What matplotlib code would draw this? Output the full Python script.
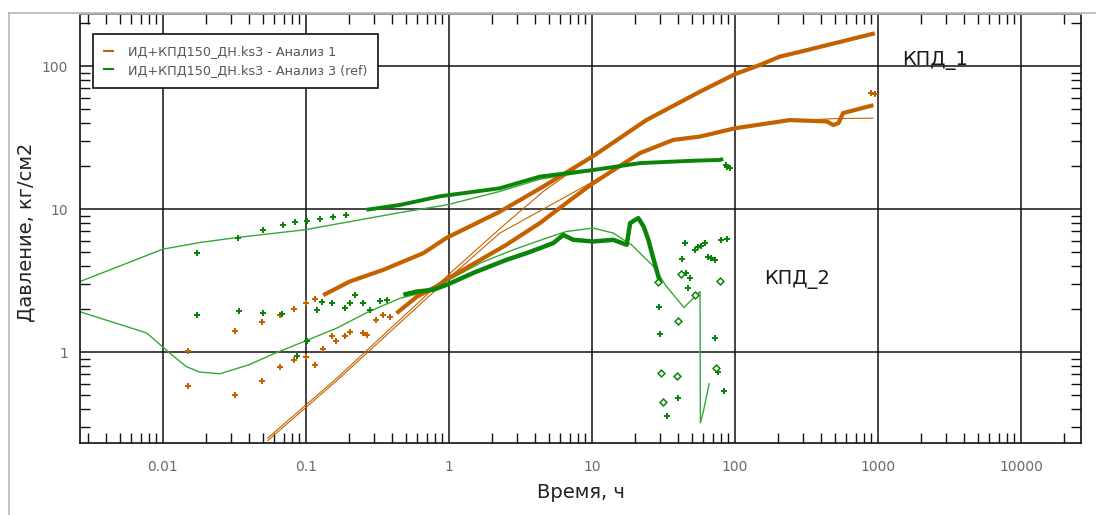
import matplotlib
matplotlib.use("Agg")
import matplotlib.pyplot as plt
from matplotlib.lines import Line2D

orange = '#c46200'
green = '#0a850a'
green_line = '#35a835'

# --- Analysis 1 (orange) ---
# pressure change, sparse early points
a1_dp_sparse_t = [0.015, 0.032, 0.049, 0.066, 0.082, 0.1, 0.116]
a1_dp_sparse_p = [1.01, 1.41, 1.62, 1.82, 2.0, 2.2, 2.35]
# pressure change, dense part
a1_dp_t = [0.132, 0.203, 0.347, 0.661, 0.963, 2.27, 4.57, 10.2, 24, 57, 100, 149, 207, 284, 500, 950]
a1_dp_p = [2.5, 3.12, 3.76, 4.92, 6.3, 9.6, 14.4, 23.5, 42, 66.4, 88, 102, 117, 126, 145, 170]
# derivative, sparse early points
a1_der_sparse_t = [0.015, 0.032, 0.049, 0.066, 0.082, 0.1, 0.116, 0.132, 0.151, 0.163, 0.188, 0.203, 0.252, 0.266, 0.31, 0.347, 0.389]
a1_der_sparse_p = [0.575, 0.503, 0.63, 0.79, 0.88, 0.917, 0.815, 1.05, 1.30, 1.19, 1.30, 1.39, 1.36, 1.32, 1.68, 1.82, 1.77]
# derivative, dense part
a1_der_t = [0.43, 0.6, 0.82, 1.0, 2.5, 4.33, 7.4, 10.2, 21.7, 37, 57, 100, 242, 438, 487, 530, 570, 930]
a1_der_p = [1.87, 2.45, 2.88, 3.3, 5.6, 8.0, 12.0, 15.2, 24.7, 30.5, 32.2, 36.8, 42, 41.1, 38.8, 40, 47, 53.4]
a1_der_tail_t = [895, 960]
a1_der_tail_p = [64.5, 64]
# model curves
a1_mod_dp_t = [0.054, 0.164, 1.0, 2.27, 4.57, 10.2, 24, 57, 100, 207, 500, 950]
a1_mod_dp_p = [0.25, 0.655, 3.5, 7.3, 13.3, 23.5, 41, 66, 87, 117, 145, 168]
a1_mod_der_t = [0.054, 0.164, 1.0, 2.27, 10.2, 21.7, 37, 57, 108, 240, 500, 922]
a1_mod_der_p = [0.24, 0.63, 3.3, 6.8, 15.6, 24.7, 30.5, 32.5, 37.8, 41.5, 43, 43.3]

# --- Analysis 3 (ref, green) ---
a3_dp_sparse_t = [0.0172, 0.0337, 0.0504, 0.0694, 0.0837, 0.101, 0.125, 0.155, 0.192]
a3_dp_sparse_p = [4.97, 6.27, 7.16, 7.76, 8.07, 8.2, 8.5, 8.8, 9.1]
a3_dp_t = [0.265, 0.455, 0.865, 2.27, 4.33, 10.2, 21.7, 50, 78.6, 82.7]
a3_dp_p = [9.9, 10.7, 12.3, 14.0, 16.9, 18.8, 21.0, 21.8, 22.1, 22.5]
a3_dp_tail_t = [86, 87.6, 92]
a3_dp_tail_p = [20.5, 19.8, 19.3]
a3_der_sparse_t = [0.0172, 0.034, 0.05, 0.068, 0.086, 0.101, 0.119, 0.129, 0.153, 0.187, 0.203, 0.22, 0.252, 0.28, 0.33, 0.366]
a3_der_sparse_p = [1.82, 1.95, 1.87, 1.84, 0.94, 1.2, 1.98, 2.24, 2.22, 2.03, 2.22, 2.49, 2.2, 1.98, 2.26, 2.3]
a3_der_t = [0.48, 0.595, 0.78, 1.0, 1.5, 2.53, 3.5, 4.33, 5.37, 6.3, 7.4, 10.2, 14.1, 17.5,
            18.5, 20, 21.1, 23, 24.8, 26.3, 28.5, 30]
a3_der_p = [2.52, 2.65, 2.73, 3.0, 3.6, 4.42, 4.93, 5.33, 5.79, 6.6, 6.1, 5.94, 6.1, 5.63,
            7.98, 8.4, 8.65, 7.55, 6.1, 4.9, 3.66, 3.04]
# late scattered derivative points
a3_late_t = [29.4, 29.9, 33.6, 40, 42.9, 45, 45.7, 48.3, 47, 52.3, 55, 58, 61.6, 65, 68, 72.5, 72.5, 75.9, 83.9, 80.5, 87.6]
a3_late_p = [2.06, 1.34, 0.358, 0.477, 4.47, 5.83, 3.6, 3.29, 2.8, 5.2, 5.4, 5.5, 5.79, 4.66, 4.55, 4.42, 1.25, 0.73, 0.537, 6.1, 6.16]
a3_late_open_t = [29, 30.4, 31.4, 39.6, 40, 42.2, 52.3, 78.6, 73.9]
a3_late_open_p = [3.11, 0.71, 0.447, 0.675, 1.64, 3.53, 2.49, 3.16, 0.773]
# model curves
a3_mod_dp_t = [0.0026, 0.01, 0.0183, 0.0347, 0.098, 0.455, 0.96, 2.27, 4.33, 10.2, 21.7, 80]
a3_mod_dp_p = [3.1, 5.25, 5.85, 6.37, 7.17, 9.46, 10.7, 13.3, 16.2, 18.5, 20.8, 22]
a3_mod_der_t = [0.0026, 0.0077, 0.0112, 0.0146, 0.018, 0.025, 0.04, 0.062, 0.1, 0.164, 0.27, 0.455, 0.6, 1.0,
                1.65, 2.81, 4.8, 6.6, 10.2, 14.1, 19, 26.8, 33, 44, 57, 57.3, 60, 66]
a3_mod_der_p = [1.92, 1.36, 0.98, 0.79, 0.725, 0.705, 0.815, 0.99, 1.2, 1.47, 1.9, 2.38, 2.55, 3.2,
                4.19, 5.19, 6.27, 6.97, 7.37, 6.8, 5.6, 4.0, 2.9, 2.05, 2.65, 0.32, 0.38, 0.6]

x_ticks = [0.01, 0.1, 1, 10, 100, 1000, 10000]
y_ticks = [1, 10, 100]

fig = plt.figure(figsize=(10.96, 5.15), dpi=100)
ax = fig.add_axes([80 / 1096, 72 / 515, 1001 / 1096, 429 / 515])

# thin model lines
ax.plot(a1_mod_dp_t, a1_mod_dp_p, color=orange, lw=0.8)
ax.plot(a1_mod_der_t, a1_mod_der_p, color=orange, lw=0.8)
ax.plot(a3_mod_dp_t, a3_mod_dp_p, color=green_line, lw=1.0)
ax.plot(a3_mod_der_t, a3_mod_der_p, color=green_line, lw=1.0)

# dense measured data
ax.plot(a1_dp_t, a1_dp_p, color=orange, lw=3.0, solid_capstyle='butt')
ax.plot(a1_der_t, a1_der_p, color=orange, lw=3.0, solid_capstyle='butt')
ax.plot(a3_dp_t, a3_dp_p, color=green, lw=2.8, solid_capstyle='butt')
ax.plot(a3_der_t, a3_der_p, color=green, lw=3.2, solid_capstyle='butt')

# sparse measured points
pt = dict(ls='none', marker='P', ms=4.5, mew=0)
ax.plot(a1_dp_sparse_t, a1_dp_sparse_p, color=orange, **pt)
ax.plot(a1_der_sparse_t, a1_der_sparse_p, color=orange, **pt)
ax.plot(a1_der_tail_t, a1_der_tail_p, color=orange, **pt)
ax.plot(a3_dp_sparse_t, a3_dp_sparse_p, color=green, **pt)
ax.plot(a3_dp_tail_t, a3_dp_tail_p, color=green, **pt)
ax.plot(a3_der_sparse_t, a3_der_sparse_p, color=green, **pt)
ax.plot(a3_late_t, a3_late_p, color=green, **pt)
ax.plot(a3_late_open_t, a3_late_open_p, ls='none', marker='D', ms=3.5, mfc='white', mec=green, mew=1.1)

ax.set_xscale('log')
ax.set_yscale('log')
ax.set_xlim(0.00263, 26300)
ax.set_ylim(0.231, 232)
ax.set_xticks(x_ticks)
ax.set_yticks(y_ticks)
ax.set_xticklabels(['%g' % v for v in x_ticks])
ax.set_yticklabels(['%g' % v for v in y_ticks])

ax.grid(True, which='major', color='#111111', lw=1.1)
ax.set_axisbelow(True)
ax.tick_params(which='major', length=0, labelsize=10, labelcolor='#6a6a6a')
ax.tick_params(axis='x', which='major', pad=12)
ax.tick_params(axis='y', which='major', pad=8.5)
ax.tick_params(which='minor', direction='in', length=7, width=1.0, color='#111111',
               top=True, right=True, labelbottom=False, labelleft=False)
for s in ('left', 'bottom', 'right'):
    ax.spines[s].set_linewidth(1.2)
    ax.spines[s].set_color('#111111')
ax.spines['top'].set_color('#9a9a9a')
ax.spines['top'].set_linewidth(1.4)

ax.set_xlabel('Время, ч', fontsize=14, color='#222222', labelpad=7)
ax.set_ylabel('Давление, кг/см2', fontsize=14, color='#222222')
ax.yaxis.set_label_coords(-0.044, 0.49)

ax.text(2500, 109, 'КПД_1', fontsize=14, color='#1a1a1a', ha='center', va='center')
ax.text(271, 3.2, 'КПД_2', fontsize=14, color='#1a1a1a', ha='center', va='center')

handles = [Line2D([], [], color=orange, lw=1.5), Line2D([], [], color=green, lw=1.5)]
leg = ax.legend(handles, ['ИД+КПД150_ДН.ks3 - Анализ 1', 'ИД+КПД150_ДН.ks3 - Анализ 3 (ref)'],
                loc='upper left', bbox_to_anchor=(0.013, 0.953), borderaxespad=0,
                fontsize=9.2, handlelength=0.7, handletextpad=1.2, labelspacing=0.45,
                borderpad=0.85, fancybox=False, framealpha=1, labelcolor='#555555')
leg.get_frame().set_edgecolor('#111111')
leg.get_frame().set_linewidth(1.2)

# outer panel border
fig.add_artist(Line2D([9 / 1096, 9 / 1096], [0, 502 / 515], color='#b5b5b5', lw=1.2))
fig.add_artist(Line2D([9 / 1096, 1], [502 / 515, 502 / 515], color='#b5b5b5', lw=1.2))

fig.savefig('out.png', dpi=100)
